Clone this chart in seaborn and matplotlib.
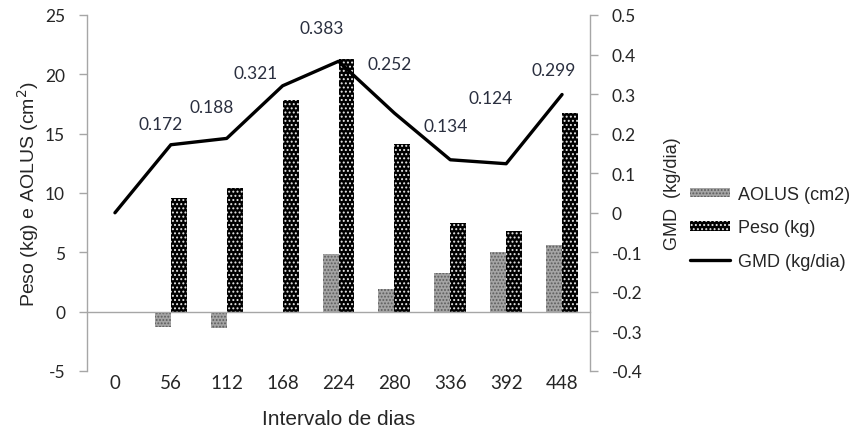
import seaborn as sns
import matplotlib.pyplot as plt
import matplotlib.patches as mpatches
import matplotlib.lines as mlines
from matplotlib.ticker import FixedLocator, FuncFormatter
import pandas as pd
import numpy as np

# --- Data ---
dias = ["0", "56", "112", "168", "224", "280", "336", "392", "448"]
aolus = [0.0, -1.3, -1.4, 0.0, 4.9, 1.95, 3.25, 5.05, 5.6]
peso = [0.0, 9.6, 10.4, 17.8, 21.3, 14.1, 7.45, 6.8, 16.7]
gmd = [0.0, 0.172, 0.188, 0.321, 0.383, 0.252, 0.134, 0.124, 0.299]

# label offsets for the GMD values (pixels, from the point)
label_offsets = [None, (-10, 21), (-15, 31), (-27, 13), (-17, 33),
                 (-5, 49), (-5, 34), (-16, 66), (-8, 25)]

df = pd.DataFrame({
    "dia": dias * 2,
    "serie": ["AOLUS (cm2)"] * len(dias) + ["Peso (kg)"] * len(dias),
    "valor": aolus + peso,
})

sns.set_style("white")
plt.rcParams["hatch.linewidth"] = 0.9
plt.rcParams["axes.unicode_minus"] = False

grey = "#a6a6a6"
txt = "#262626"
num_font = "Lato"
lab_font = "Liberation Sans"

fig = plt.figure(figsize=(8.57, 4.35), dpi=100)
ax = fig.add_axes([87 / 857, 1 - 372 / 435, (590 - 87) / 857, (372 - 16) / 435])

# --- Bars ---
sns.barplot(data=df, x="dia", y="valor", hue="serie", order=dias,
            hue_order=["AOLUS (cm2)", "Peso (kg)"],
            palette=["#a0a0a0", "#000000"], width=0.57, legend=False,
            ax=ax, errorbar=None)

styles = {
    "AOLUS (cm2)": dict(face="#a4a4a4", edge="#5c5c5c", hatch="....."),
    "Peso (kg)": dict(face="#000000", edge="#e6e6e6", hatch="...."),
}
for container, name in zip(ax.containers, ["AOLUS (cm2)", "Peso (kg)"]):
    st = styles[name]
    for bar in container:
        bar.set_facecolor(st["face"])
        bar.set_edgecolor(st["edge"])
        bar.set_hatch(st["hatch"])
        bar.set_linewidth(0)

ax.set_xlim(-0.5, len(dias) - 0.5)
ax.set_ylim(-5, 25)
ax.set_yticks(np.arange(-5, 26, 5))
ax.set_xlabel("Intervalo de dias", fontsize=15, family=lab_font, color=txt, labelpad=13)
ax.set_ylabel("Peso (kg) e AOLUS (cm$^2$)", fontsize=14, family=lab_font, color=txt, labelpad=3)

for s in ["top", "right"]:
    ax.spines[s].set_visible(False)
ax.spines["bottom"].set_position(("data", 0))
for s in ["left", "bottom"]:
    ax.spines[s].set_color(grey)
    ax.spines[s].set_linewidth(1.0)

ax.tick_params(axis="x", which="major", length=0, pad=45, labelsize=13.5, labelcolor=txt)
ax.xaxis.set_minor_locator(FixedLocator(np.arange(0.5, len(dias) - 1, 1)))
ax.tick_params(axis="x", which="minor", length=5.8, width=1, color=grey, direction="out")
ax.tick_params(axis="y", length=5.8, width=1, color=grey, direction="out", pad=10,
               labelsize=12.5, labelcolor=txt, left=True)
for lab in ax.get_xticklabels() + ax.get_yticklabels():
    lab.set_family(num_font)

# --- GMD line on secondary axis ---
ax2 = ax.twinx()
sns.lineplot(x=np.arange(len(dias)), y=gmd, ax=ax2, color="black", linewidth=2.4)
ax2.set_ylim(-0.4, 0.5)
ax2.set_xlim(-0.5, len(dias) - 0.5)
ax2.yaxis.set_major_locator(FixedLocator(np.round(np.arange(-0.4, 0.51, 0.1), 1)))
ax2.yaxis.set_major_formatter(FuncFormatter(lambda v, p: f"{round(v, 1) + 0.0:g}"))
for s in ["top", "left", "bottom"]:
    ax2.spines[s].set_visible(False)
ax2.spines["right"].set_color(grey)
ax2.spines["right"].set_linewidth(1.0)
ax2.tick_params(axis="y", length=5.8, width=1, color=grey, direction="out", pad=10,
                labelsize=12.5, labelcolor=txt, right=True)
for lab in ax2.get_yticklabels():
    lab.set_family(num_font)
ax2.set_ylabel("GMD  (kg/dia)", fontsize=13, family=lab_font, color=txt, labelpad=15)

for i, v in enumerate(gmd):
    off = label_offsets[i]
    if off is None:
        continue
    ax2.annotate(f"{v:.3f}", (i, v), xytext=off, textcoords="offset pixels",
                 ha="center", va="center", fontsize=12.5, family=num_font,
                 color="#2a2f3f")

# --- Legend ---
handles = [
    mpatches.Patch(facecolor=styles["AOLUS (cm2)"]["face"], edgecolor=styles["AOLUS (cm2)"]["edge"],
                   hatch=styles["AOLUS (cm2)"]["hatch"], linewidth=0, label="AOLUS (cm2)"),
    mpatches.Patch(facecolor=styles["Peso (kg)"]["face"], edgecolor=styles["Peso (kg)"]["edge"],
                   hatch=styles["Peso (kg)"]["hatch"], linewidth=0, label="Peso (kg)"),
    mlines.Line2D([], [], color="black", linewidth=2.4, label="GMD (kg/dia)"),
]
fig.legend(handles=handles, loc="center left", bbox_to_anchor=(690 / 857, 1 - 229 / 435),
           frameon=False, prop={"family": lab_font, "size": 13}, handlelength=2.2,
           handleheight=0.4, handletextpad=0.45, labelspacing=0.9,
           borderpad=0, borderaxespad=0, labelcolor=txt)

fig.savefig("out.png", dpi=100)
plt.close(fig)
